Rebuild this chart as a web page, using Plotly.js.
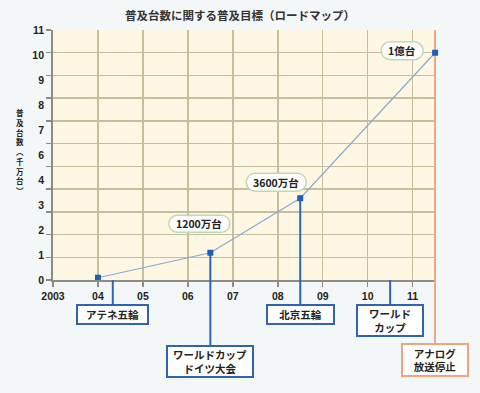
<!DOCTYPE html>
<html>
<head>
<meta charset="utf-8">
<script src="https://cdn.plot.ly/plotly-3.0.1.min.js"></script>
<style>
  html, body { margin: 0; padding: 0; background: #f4f7f7; }
  #chart { width: 480px; height: 393px; }
</style>
</head>
<body>
<div id="chart"></div>
<script>
// ---- data ----
const years = [2004, 2006.5, 2008.5, 2011.5];
const units = [0.1, 1.2, 3.6, 10];            // 千万台
const pointLabels = ['', '1200万台', '3600万台', '1億台'];

const xTickVals = [2003, 2004, 2005, 2006, 2007, 2008, 2009, 2010, 2011];
const xTickText = ['2003', '04', '05', '06', '07', '08', '09', '10', '11'];

const yGridVals = [0, 1, 2, 3, 4, 5, 6, 7, 8, 9, 10, 11];
const yLabelText = ['0', '1', '2', '3', '4', '6', '7', '8', '9', '10', '11'];

const eventNames = ['アテネ五輪', 'ワールドカップ<br>ドイツ大会', '北京五輪', 'ワールド<br>カップ', 'アナログ<br>放送停止'];
const eventYears = [2004.33, 2006.5, 2008.5, 2010.5, 2011.5];
const eventFrom = [0, units[1], units[2], 0, 11];  // where each leader line starts (y value)

const titleText = '普及台数に関する普及目標（ロードマップ）';
const yTitleChars = ['普', '及', '台', '数', '︵', '千', '万', '台', '︶'];

// ---- styling / layout helpers ----
const BLUE = '#2f64b3';
const ORANGE = '#f2a27e';
const plotTop = 30, plotBottom = 280, plotH = plotBottom - plotTop;
const paperY = p => (plotBottom - p) / plotH;

const eventBox = [
  {top: 304, w: 73, h: 21, color: BLUE},
  {top: 345, w: 88, h: 33, color: BLUE},
  {top: 304, w: 69, h: 21, color: BLUE},
  {top: 304, w: 68, h: 33, color: BLUE},
  {top: 343, w: 68, h: 34, color: ORANGE}
];
const pillGeom = [null,
  {dx: -11, dy: 29, w: 61, h: 17},
  {dx: -24, dy: 16, w: 60, h: 18},
  {dx: -33, dy: 2, w: 42, h: 18}
];

function pillPath(g) {
  const w = g.w / 2, h = g.h / 2, r = h, k = 0.5523 * r;
  const cx = g.dx, cy = g.dy;
  const X = v => (cx + v).toFixed(2), Y = v => (cy + v).toFixed(2);
  return 'M' + X(-w + r) + ',' + Y(-h) +
    ' L' + X(w - r) + ',' + Y(-h) +
    ' C' + X(w - r + k) + ',' + Y(-h) + ' ' + X(w) + ',' + Y(-k) + ' ' + X(w) + ',' + Y(0) +
    ' C' + X(w) + ',' + Y(k) + ' ' + X(w - r + k) + ',' + Y(h) + ' ' + X(w - r) + ',' + Y(h) +
    ' L' + X(-w + r) + ',' + Y(h) +
    ' C' + X(-w + r - k) + ',' + Y(h) + ' ' + X(-w) + ',' + Y(k) + ' ' + X(-w) + ',' + Y(0) +
    ' C' + X(-w) + ',' + Y(-k) + ' ' + X(-w + r - k) + ',' + Y(-h) + ' ' + X(-w + r) + ',' + Y(-h) + ' Z';
}

const JP = '"Noto Sans CJK JP", "Noto Sans", sans-serif';
const NUM = '"Liberation Sans", Arial, sans-serif';

const shapes = [];
const annotations = [];

// event leader lines and boxes
eventNames.forEach((name, i) => {
  const b = eventBox[i];
  if (eventFrom[i] > 0) {
    shapes.push({type: 'line', xref: 'x', yref: 'y', x0: eventYears[i], x1: eventYears[i],
      y0: eventFrom[i], y1: 0, layer: 'between', line: {color: b.color, width: 2}});
  }
  shapes.push({type: 'line', xref: 'x', yref: 'paper', x0: eventYears[i], x1: eventYears[i],
    y0: 0, y1: paperY(b.top), layer: 'above', line: {color: b.color, width: 2}});
  annotations.push({
    xref: 'x', yref: 'paper', x: eventYears[i], y: paperY(b.top),
    xanchor: 'center', yanchor: 'top', showarrow: false,
    text: name, align: 'center',
    width: b.w - 4, height: b.h - 4,
    bgcolor: '#ffffff', bordercolor: b.color, borderwidth: 2, borderpad: 0,
    font: {family: JP, size: 10.5, color: '#222', weight: 'bold'}
  });
});

// pill callouts for the points
pointLabels.forEach((lab, i) => {
  if (!lab) return;
  const g = pillGeom[i];
  shapes.push({
    type: 'path', xref: 'x', yref: 'y', xsizemode: 'pixel', ysizemode: 'pixel',
    xanchor: years[i], yanchor: units[i], path: pillPath(g), layer: 'above',
    fillcolor: '#ffffff', line: {color: '#bcdbb0', width: 1.5}
  });
  annotations.push({
    xref: 'x', yref: 'y', x: years[i], y: units[i], xshift: g.dx, yshift: g.dy,
    showarrow: false, text: lab,
    font: {family: JP, size: 10.5, color: '#222', weight: 'bold'}
  });
});

// vertical y-axis title (stacked upright characters)
annotations.push({
  xref: 'paper', yref: 'paper', x: (20 - 53) / 383, y: paperY(151),
  xanchor: 'center', yanchor: 'middle', showarrow: false,
  text: yTitleChars.join('<br>'),
  font: {family: JP, size: 7.5, color: '#222', weight: 'bold'}
});

const traces = [{
  type: 'scatter', mode: 'lines+markers',
  x: years, y: units, cliponaxis: false,
  line: {color: '#8aa9d6', width: 1.2},
  marker: {symbol: 'square', size: 6, color: '#1e5fb4'},
  hoverinfo: 'skip', showlegend: false
}, {
  // invisible twin so that the label axis (yaxis2) is drawn
  type: 'scatter', mode: 'lines', x: years, y: units, yaxis: 'y2',
  opacity: 0, line: {width: 0}, hoverinfo: 'skip', showlegend: false
}];

const layout = {
  width: 480, height: 393,
  margin: {l: 53, r: 44, t: 30, b: 113, pad: 0},
  paper_bgcolor: '#f4f7f7',
  plot_bgcolor: '#fdf7e4',
  showlegend: false,
  title: {
    text: titleText, x: 0.5, xref: 'container', xanchor: 'center',
    y: 1 - 16 / 393, yref: 'container', yanchor: 'middle',
    font: {family: JP, size: 11.5, color: '#333', weight: 'bold'}
  },
  xaxis: {
    range: [2003, 2011.52], tickvals: xTickVals, ticktext: xTickText,
    ticks: 'outside', ticklen: 5, tickwidth: 1.5, tickcolor: '#8c8c84',
    showline: true, linecolor: '#8c8c84', linewidth: 2,
    showgrid: true, gridcolor: '#c6bf9f', gridwidth: 1.5, zeroline: false,
    tickfont: {family: NUM, size: 10.5, color: '#222', weight: 'bold'},
    fixedrange: true
  },
  yaxis: {
    range: [0, 11], tickvals: yGridVals, showticklabels: false,
    ticks: 'outside', ticklen: 5, tickwidth: 1.5, tickcolor: '#8c8c84',
    showline: true, linecolor: '#8c8c84', linewidth: 2,
    showgrid: true, gridcolor: '#c6bf9f', gridwidth: 1.5, zeroline: false,
    fixedrange: true
  },
  yaxis2: {
    overlaying: 'y', side: 'left', anchor: 'x', range: [0, 11],
    tickvals: yLabelText.map((t, i) => i * 11 / (yLabelText.length - 1)),
    ticktext: yLabelText, ticks: '', ticklabelstandoff: 8,
    showgrid: false, showline: false, zeroline: false,
    tickfont: {family: NUM, size: 10.5, color: '#222', weight: 'bold'},
    fixedrange: true
  },
  shapes: shapes,
  annotations: annotations
};

Plotly.newPlot('chart', traces, layout, {displayModeBar: false, staticPlot: true});
</script>
</body>
</html>
